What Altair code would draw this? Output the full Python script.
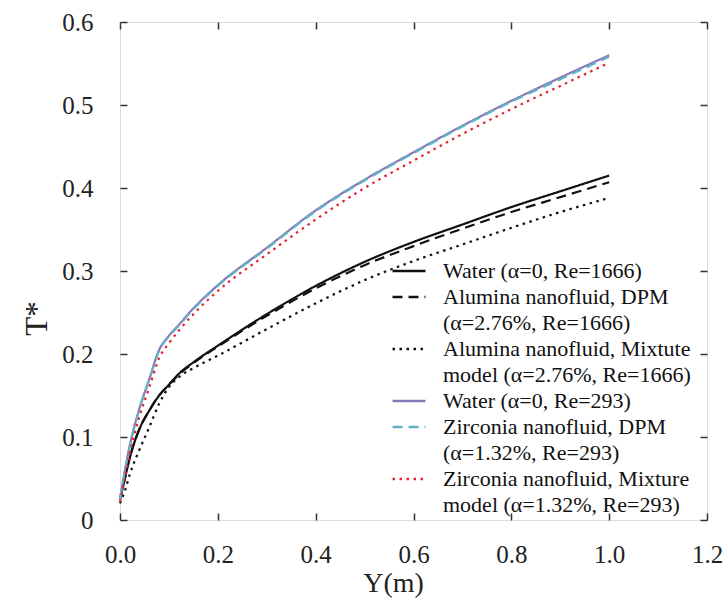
import altair as alt
import pandas as pd

# ---------------- data ----------------
Y_POS = [0.0, 0.01, 0.02, 0.04, 0.06, 0.08, 0.10, 0.12, 0.15, 0.20, 0.30, 0.40, 0.50, 0.60, 0.70, 0.80, 0.90, 1.00]

water_1666 = [0.025, 0.050, 0.075, 0.110, 0.132, 0.150, 0.163, 0.176, 0.190, 0.210, 0.248, 0.282, 0.311, 0.335, 0.356, 0.377, 0.396, 0.415]
alumina_dpm = [0.025, 0.050, 0.075, 0.110, 0.132, 0.150, 0.163, 0.175, 0.189, 0.209, 0.246, 0.279, 0.307, 0.330, 0.351, 0.371, 0.389, 0.407]
alumina_mix = [0.020, 0.035, 0.055, 0.085, 0.112, 0.140, 0.160, 0.172, 0.183, 0.198, 0.230, 0.261, 0.289, 0.312, 0.332, 0.352, 0.371, 0.388]
water_293 = [0.025, 0.060, 0.090, 0.135, 0.170, 0.205, 0.222, 0.235, 0.255, 0.283, 0.328, 0.373, 0.410, 0.443, 0.475, 0.505, 0.533, 0.560]
zirconia_dpm = [0.025, 0.059, 0.089, 0.134, 0.169, 0.204, 0.221, 0.234, 0.254, 0.282, 0.327, 0.372, 0.409, 0.442, 0.474, 0.504, 0.531, 0.558]
zirconia_mix = [0.022, 0.050, 0.080, 0.125, 0.160, 0.195, 0.213, 0.228, 0.248, 0.276, 0.320, 0.362, 0.400, 0.433, 0.465, 0.495, 0.523, 0.551]

NAMES = [
    "Water (α=0, Re=1666)",
    "Alumina nanofluid, DPM|(α=2.76%,  Re=1666)",
    "Alumina nanofluid, Mixtute|model (α=2.76%,  Re=1666)",
    "Water (α=0,  Re=293)",
    "Zirconia nanofluid, DPM|(α=1.32%,  Re=293)",
    "Zirconia nanofluid, Mixture|model (α=1.32%,  Re=293)",
]
SERIES_VALUES = [water_1666, alumina_dpm, alumina_mix, water_293, zirconia_dpm, zirconia_mix]
COLORS = ["#111111", "#111111", "#111111", "#8878b8", "#62b4c4", "#e4202c"]
DASHES = [[1, 0], [10, 6], [2.5, 4.5], [1, 0], [10, 6], [2.5, 4.5]]

X_TICKS = [0.0, 0.2, 0.4, 0.6, 0.8, 1.0, 1.2]
Y_TICKS = [0.0, 0.1, 0.2, 0.3, 0.4, 0.5, 0.6]

rows = []
for i, (name, vals) in enumerate(zip(NAMES, SERIES_VALUES)):
    for y, t in zip(Y_POS, vals):
        rows.append({"series": name, "order": i, "Y": y, "T": t})
df = pd.DataFrame(rows)

FONT = "Liberation Serif"
xscale = alt.Scale(domain=[0, 1.2], nice=False, zero=False)
yscale = alt.Scale(domain=[0, 0.6], nice=False, zero=False)

leg = alt.Legend(
    title=None, orient="none", legendX=278, legendY=238,
    labelExpr="split(datum.label, '|')",
    labelFont=FONT, labelFontSize=22, labelColor="#111111", labelLimit=500,
    symbolType="M-2,0H2", symbolSize=272, symbolStrokeWidth=2.5,
    labelOffset=23, rowPadding=4, padding=0,
)

base = alt.Chart(df)

lines = base.mark_line(strokeWidth=2.2, interpolate="monotone").encode(
    x=alt.X("Y:Q", scale=xscale, axis=alt.Axis(
        orient="bottom", values=X_TICKS, format=".1f", offset=-7, tickSize=7,
        tickColor="#333333", tickWidth=1.5, domain=False, grid=False, labelFlush=False,
        labelPadding=22, labelFont=FONT, labelFontSize=25, labelColor="#222222",
        title="Y(m)", titleFont=FONT, titleFontSize=28, titleFontWeight="normal",
        titleColor="#222222", titlePadding=2, titleX=273, titleAnchor="start", titleAlign="center")),
    y=alt.Y("T:Q", scale=yscale, axis=alt.Axis(
        orient="left", values=Y_TICKS, offset=-7, tickSize=7, labelFlush=False,
        labelExpr="datum.value == 0 ? '0' : format(datum.value, '.1f')",
        tickColor="#333333", tickWidth=1.5, domain=False, grid=False,
        labelPadding=27, labelFont=FONT, labelFontSize=25, labelColor="#222222",
        title="T*", titleFont=FONT, titleFontSize=31, titleFontWeight="normal",
        titleColor="#222222", titleX=-90, titleY=296, titleAlign="center",
        titleBaseline="middle", titleAngle=270)),
    color=alt.Color("series:N", scale=alt.Scale(domain=NAMES, range=COLORS), legend=leg),
    strokeDash=alt.StrokeDash("series:N", scale=alt.Scale(domain=NAMES, range=DASHES), legend=leg),
    order="order:Q",
)

mirror = base.mark_line(opacity=0).encode(
    x=alt.X("Y:Q", scale=xscale, axis=alt.Axis(
        orient="top", values=X_TICKS, offset=-7, tickSize=7, labels=False,
        tickColor="#333333", tickWidth=1.5, domain=False, grid=False, title=None)),
    y=alt.Y("T:Q", scale=yscale, axis=alt.Axis(
        orient="right", values=Y_TICKS, offset=-7, tickSize=7, labels=False,
        tickColor="#333333", tickWidth=1.5, domain=False, grid=False, title=None)),
    detail="series:N",
)

chart = alt.layer(lines, mirror).resolve_axis(x="independent", y="independent").properties(
    width=587, height=498,
    autosize=alt.AutoSizeParams(type="none"),
    padding={"left": 120, "top": 22, "right": 21, "bottom": 84},
    background="white",
).configure_view(stroke="#333333", strokeWidth=2).configure(
    style={"guide-label": {"lineHeight": 25.5}}
)

chart.save("out.html", embed_options={"renderer": "svg", "actions": False})
